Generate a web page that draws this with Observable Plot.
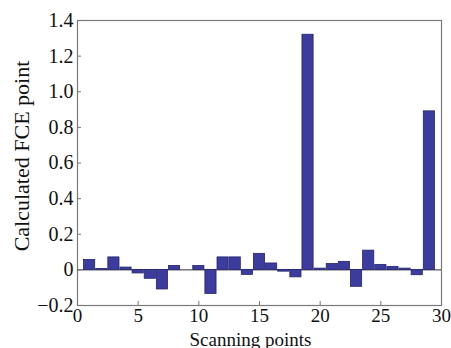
<!DOCTYPE html>
<html>
<head>
<meta charset="utf-8">
<script src="https://cdn.jsdelivr.net/npm/d3@7"></script>
<script src="https://cdn.jsdelivr.net/npm/@observablehq/plot@0.6"></script>
<style>
  html, body { margin: 0; padding: 0; background: #fff; }
  #chart svg, #chart svg text { font-family: "Liberation Serif", "DejaVu Serif", serif !important; }
</style>
</head>
<body>
<div id="chart"></div>
<script>
const points = [1,2,3,4,5,6,7,8,9,10,11,12,13,14,15,16,17,18,19,20,21,22,23,24,25,26,27,28,29];
const values = [0.056,0.005,0.07,0.013,-0.02,-0.05,-0.11,0.022,0,0.022,-0.135,0.07,0.07,-0.028,0.09,0.036,-0.01,-0.042,1.32,0.007,0.033,0.045,-0.095,0.108,0.028,0.017,0.007,-0.03,0.89];
const xTicks = [0,5,10,15,20,25,30];
const yTicks = [-0.2,0,0.2,0.4,0.6,0.8,1.0,1.2,1.4];
const yTickLabels = ["\u22120.2","0","0.2","0.4","0.6","0.8","1.0","1.2","1.4"];
const xLabel = "Scanning points";
const yLabel = "Calculated FCE point";

const data = points.map((p, i) => ({x: p, v: values[i]}));
const halfWidth = 0.46;

const chart = Plot.plot({
  width: 451,
  height: 348,
  marginLeft: 77,
  marginRight: 10,
  marginTop: 20,
  marginBottom: 43,
  style: {fontFamily: "Liberation Serif", fontSize: "20px", color: "#111", background: "#fff"},
  x: {domain: [0, 30]},
  y: {domain: [-0.2, 1.4]},
  marks: [
    Plot.frame({stroke: "#7a7a7a", strokeWidth: 1.2}),
    Plot.ruleY([0], {stroke: "#333", strokeWidth: 1}),
    Plot.rectY(data, {x1: d => d.x - halfWidth, x2: d => d.x + halfWidth, y1: 0, y2: "v", fill: "#3c3c9e", stroke: "#23236e", strokeWidth: 0.8}),
    Plot.axisX({ticks: xTicks, tickSize: -4, tickPadding: 7, stroke: "#777", label: null, fontSize: 19}),
    Plot.axisY({ticks: yTicks, tickFormat: (d) => yTickLabels[yTicks.indexOf(d)], tickSize: -4, tickPadding: 8, stroke: "#777", label: null, fontSize: 20}),
    Plot.text([xLabel], {frameAnchor: "bottom", dy: 27, dx: -9, lineAnchor: "top", fontSize: 19, fill: "#111"}),
    Plot.text([yLabel], {frameAnchor: "left", textAnchor: "middle", lineAnchor: "middle", dx: -56, dy: -7, rotate: -90, fontSize: 22, fill: "#111"})
  ]
});
document.getElementById("chart").appendChild(chart);
</script>
</body>
</html>
